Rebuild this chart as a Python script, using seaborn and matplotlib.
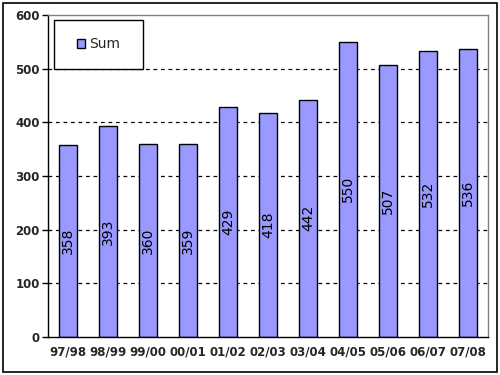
import matplotlib
matplotlib.use("Agg")
import matplotlib.pyplot as plt
import seaborn as sns
import pandas as pd
from matplotlib.patches import Rectangle, Patch

categories = ["97/98", "98/99", "99/00", "00/01", "01/02", "02/03", "03/04", "04/05", "05/06", "06/07", "07/08"]
values = [358, 393, 360, 359, 429, 418, 442, 550, 507, 532, 536]
yticks = [0, 100, 200, 300, 400, 500, 600]

df = pd.DataFrame({"season": categories, "Sum": values})

sns.set_style("white")
plt.rcParams["font.family"] = ["DejaVu Sans"]

fig = plt.figure(figsize=(5, 3.75), dpi=100)
ax = fig.add_axes([0.096, 0.1013, 0.88, 0.859])

sns.barplot(data=df, x="season", y="Sum", color="#9999FF", edgecolor="black",
            linewidth=1, width=0.43, saturation=1, ax=ax)

ax.set_ylim(0, 600)
ax.set_xlim(-0.5, len(categories) - 0.5)
ax.set_yticks(yticks)
ax.set_yticklabels([str(t) for t in yticks], fontsize=8.5, fontweight="bold")
ax.set_xticks(range(len(categories)))
ax.set_xticklabels(categories, fontsize=8.5, fontweight="bold")
ax.tick_params(axis="x", length=0, pad=6)
ax.set_xticks([i - 0.5 for i in range(len(categories) + 1)], minor=True)
ax.tick_params(axis="x", which="minor", direction="out", length=4, width=1, color="black")
ax.tick_params(axis="y", direction="out", length=4, width=1, color="black", left=True, pad=2)
ax.set_xlabel("")
ax.set_ylabel("")

for t in yticks[1:-1]:
    ax.axhline(t, color="black", linestyle=(0, (3, 3)), linewidth=0.9, zorder=0)

for s in ["left", "bottom"]:
    ax.spines[s].set_color("black")
    ax.spines[s].set_linewidth(1)
for s in ["top", "right"]:
    ax.spines[s].set_color("#808080")
    ax.spines[s].set_linewidth(1)

for i, v in enumerate(values):
    ax.text(i, v / 2, str(v), rotation=90, ha="center", va="center", fontsize=10, color="black")

# legend box
fig.patches.append(Rectangle((0.108, 0.816), 0.178, 0.1307, transform=fig.transFigure,
                             facecolor="white", edgecolor="black", linewidth=1, zorder=5))
leg = fig.legend(handles=[Patch(facecolor="#9999FF", edgecolor="black", label="Sum")],
                 loc="center", bbox_to_anchor=(0.197, 0.8815), frameon=False,
                 fontsize=10, handlelength=0.6, handleheight=0.6,
                 borderpad=0, handletextpad=0.25)
leg.set_zorder(6)

fig.patches.append(Rectangle((0.006, 0.008), 0.988, 0.984, transform=fig.transFigure,
                             fill=False, edgecolor="black", linewidth=1.2))

fig.savefig("out.png", dpi=100)
